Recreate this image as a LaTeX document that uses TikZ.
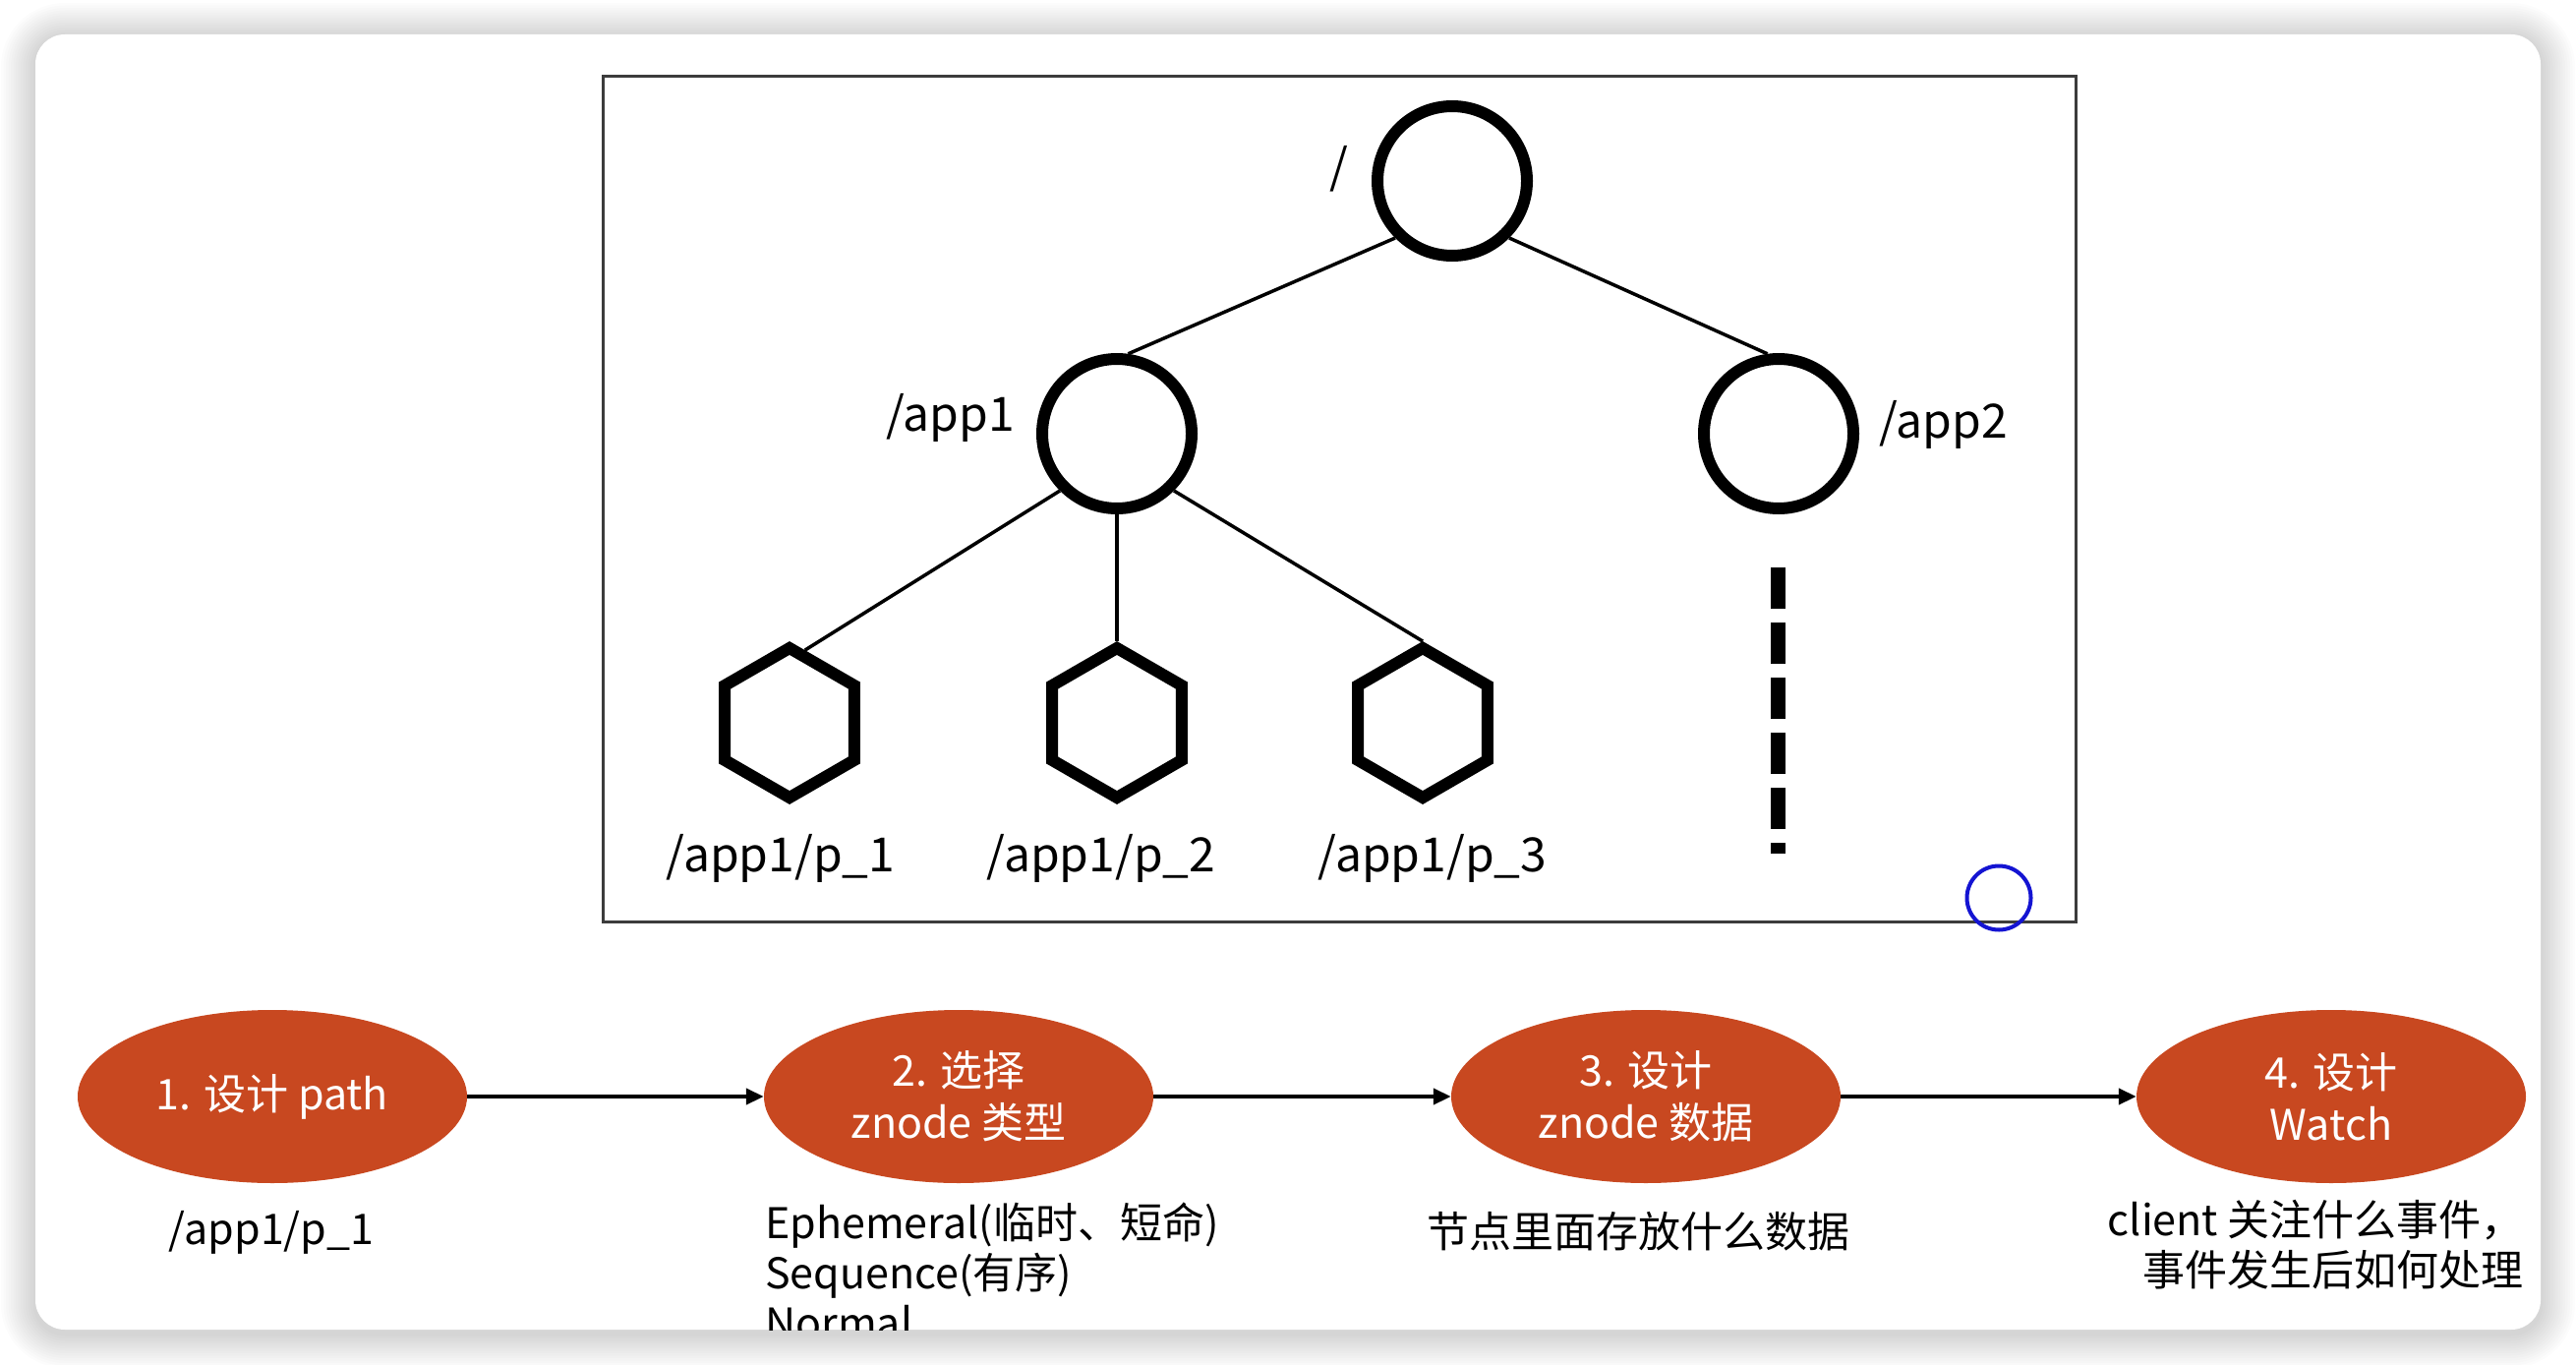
\documentclass[tikz,border=0pt]{standalone}
\usepackage{fontspec}
\setmainfont{Noto Sans CJK SC}
\usetikzlibrary{shapes.geometric,arrows.meta}

\definecolor{stepred}{RGB}{200,72,32}
\definecolor{boxgray}{RGB}{60,60,60}
\definecolor{markblue}{RGB}{20,20,210}

\tikzset{
  znode/.style={draw, circle, line width=12pt, minimum size=152pt, inner sep=0pt},
  leaf/.style={draw, regular polygon, regular polygon sides=6, shape border rotate=30,
    line width=12pt, minimum size=152pt, inner sep=0pt},
  treelbl/.style={font=\fontsize{48}{58}\selectfont, inner sep=2pt},
  link/.style={line width=3.5pt},
  stepnode/.style={ellipse, fill=stepred, minimum width=396pt, minimum height=176pt,
    inner sep=0pt, text=white, align=center, font=\fontsize{43}{53}\selectfont},
  flow/.style={line width=4pt, -{Triangle[length=18pt,width=16pt]}},
  note/.style={font=\fontsize{43}{51}\selectfont, inner sep=0pt}
}

\begin{document}
\begin{tikzpicture}[x=1pt,y=-1pt]

\useasboundingbox (0,0) rectangle (2620,1388);
\fill[white] (0,0) rectangle (2620,1388);

% card and its shadow
\foreach \s in {1,...,14}{
  \pgfmathsetmacro\r{30+2.5*\s}
  \fill[black, opacity=0.013, rounded corners=\r pt] ({36-2.5*\s},{38-2.5*\s}) rectangle ({2584+2.5*\s},{1356+2.5*\s});
}
\fill[white, rounded corners=30pt] (36,35) rectangle (2584,1352);

\begin{scope}
\clip[rounded corners=30pt] (36,35) rectangle (2584,1352);

% tree
\draw[boxgray, line width=3pt] (613,78) rectangle (2111,937);

\node[znode, label={[treelbl,label distance=22pt,yshift=12pt]left:/}] (root) at (1477,184) {};
\node[znode, label={[treelbl,label distance=20pt,yshift=16pt]left:/app1}] (app1) at (1136,441) {};
\node[znode, label={[treelbl,label distance=18pt,yshift=9pt]right:/app2}] (app2) at (1809,441) {};

\node[leaf, label={[treelbl,label distance=28pt,xshift=-9pt]below:/app1/p\_1}] (p1) at (803,735) {};
\node[leaf, label={[treelbl,label distance=28pt,xshift=-16pt]below:/app1/p\_2}] (p2) at (1136,735) {};
\node[leaf, label={[treelbl,label distance=28pt,xshift=10pt]below:/app1/p\_3}] (p3) at (1447,735) {};

\draw[link] (root.south west)--(app1.82);
\draw[link] (root.south east)--(app2.98);
\draw[link] (app1.south west)--(p1.78);
\draw[link] (app1.south)--(p2.90);
\draw[link] (app1.south east)--(p3.90);

\coordinate (moretop) at (1808,577);
\coordinate (morebot) at (1808,868);
\draw[line width=15pt, dash pattern=on 42pt off 14pt] (moretop)--(morebot);

\draw[markblue, line width=4pt] (2033,913) circle (32.5);

% steps
\node[stepnode] (pathstep) at (277,1115) {1. 设计 path};
\node[stepnode] (typestep) at (975,1115) {2. 选择\\znode 类型};
\node[stepnode] (datastep) at (1674,1115) {3. 设计\\znode 数据};
\node[stepnode] (watchstep) at (2371,1115) {4. 设计\\Watch};

\draw[flow] (pathstep)--(typestep);
\draw[flow] (typestep)--(datastep);
\draw[flow] (datastep)--(watchstep);

\node[note] (pathnote) at (276,1253) {/app1/p\_1};
\node[note, anchor=north west, align=left] (typenote) at (778,1223) {Ephemeral(临时、短命)\\Sequence(有序)\\Normal};
\node[note] (datanote) at (1666,1252) {节点里面存放什么数据};
\node[note, anchor=east, align=right] (watchnote) at (2567,1266) {client 关注什么事件，\\事件发生后如何处理};

\end{scope}
\end{tikzpicture}
\end{document}
